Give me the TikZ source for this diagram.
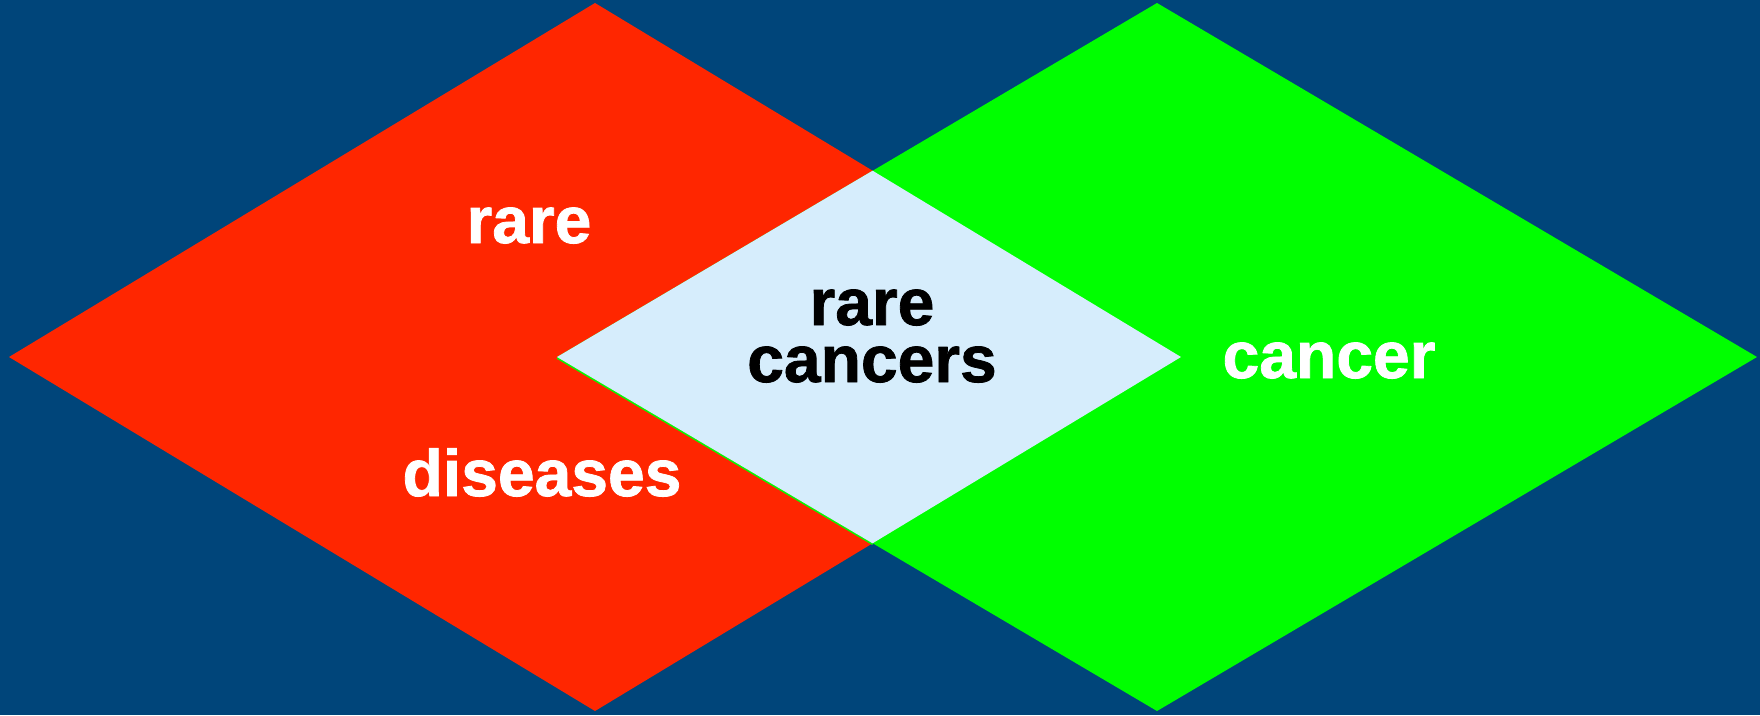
\documentclass[tikz,border=0pt]{standalone}
\usepackage{fontspec}
\setmainfont{Liberation Sans}
\newfontfamily\heavyfont[FakeBold=1.2]{Liberation Sans Bold}
\usepackage{tikz}
\usetikzlibrary{calc}

\definecolor{bgblue}{RGB}{0,69,122}
\definecolor{rarered}{RGB}{255,38,0}
\definecolor{cancergreen}{RGB}{0,255,0}
\definecolor{overlapblue}{RGB}{214,237,252}

\begin{document}
\begin{tikzpicture}[x=1pt, y=-1pt,
  word/.style={font=\heavyfont\fontsize{66}{59}\selectfont, text=white, inner sep=0pt, anchor=base},
  dark/.style={word, text=black, align=center}
]
% background, fixes the size
\fill[bgblue] (0,0) rectangle (1760,715);

% corners of the two diamonds
\coordinate (rtop) at (595,3);
\coordinate (rleft) at (9,357);
\coordinate (rbot) at (595,711);
\coordinate (rright) at (1181,357);
\coordinate (gtop) at (1157,3);
\coordinate (gleft) at (557,357);
\coordinate (gbot) at (1157,711);
\coordinate (gright) at (1757,357);
\coordinate (xtop) at (872.6,170.7);
\coordinate (xbot) at (872.6,543.3);

\fill[rarered] (rtop) -- (rleft) -- (rbot) -- (rright) -- cycle;
\fill[cancergreen] (gtop) -- (gleft) -- (gbot) -- (gright) -- cycle;
\draw[cancergreen, line width=1.5pt] ($(gleft)+(0,1)$) -- ($(xbot)+(0,1)$);
\fill[overlapblue] (gleft) -- (xtop) -- (rright) -- (xbot) -- cycle;

% labels
\node[word] (rare) at (529,243) {rare};
\node[word] (diseases) at (542,496) {diseases};
\node[word] (cancer) at (1329,378) {cancer};
\node[dark] (rarecancers) at (872,382) {rare\\[-2pt]cancers};
\end{tikzpicture}
\end{document}
